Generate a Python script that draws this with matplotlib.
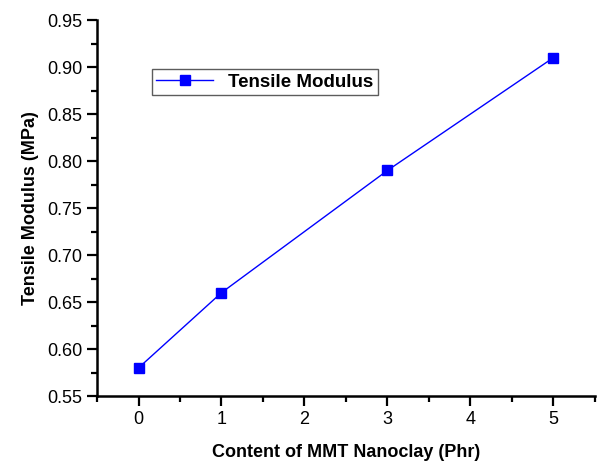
import matplotlib.pyplot as plt
from matplotlib.ticker import MultipleLocator

plt.rcParams['font.family'] = ['Liberation Sans', 'DejaVu Sans']

# data
content = [0, 1, 3, 5]
modulus = [0.58, 0.66, 0.79, 0.91]

fig = plt.figure(figsize=(5.97, 4.66), dpi=100)
ax = fig.add_axes([0.1625, 0.150, 0.834, 0.807])

ax.plot(content, modulus, color='blue', linewidth=1, marker='s', markersize=7.5,
        label='Tensile Modulus')

ax.set_xlim(-0.5, 5.5)
ax.set_ylim(0.55, 0.95)
ax.xaxis.set_major_locator(MultipleLocator(1))
ax.xaxis.set_minor_locator(MultipleLocator(0.5))
ax.yaxis.set_major_locator(MultipleLocator(0.05))
ax.yaxis.set_minor_locator(MultipleLocator(0.025))
ax.yaxis.set_major_formatter(plt.FormatStrFormatter('%.2f'))

for s in ['top', 'right']:
    ax.spines[s].set_visible(False)
for s in ['left', 'bottom']:
    ax.spines[s].set_linewidth(1.8)

ax.tick_params(which='major', direction='out', length=7, width=1.6, labelsize=13)
ax.tick_params(which='minor', direction='out', length=4, width=1.6)

ax.set_xlabel('Content of MMT Nanoclay (Phr)', fontsize=13, fontweight='bold', labelpad=12)
ax.set_ylabel('Tensile Modulus (MPa)', fontsize=13, fontweight='bold', labelpad=6)

leg = ax.legend(loc='upper left', bbox_to_anchor=(0.11, 0.87), fancybox=False,
                edgecolor='#333333', prop={'weight': 'bold', 'size': 13.5},
                handlelength=3, borderpad=0.25, borderaxespad=0)
leg.get_frame().set_linewidth(1)

plt.savefig('out.png', dpi=100)
